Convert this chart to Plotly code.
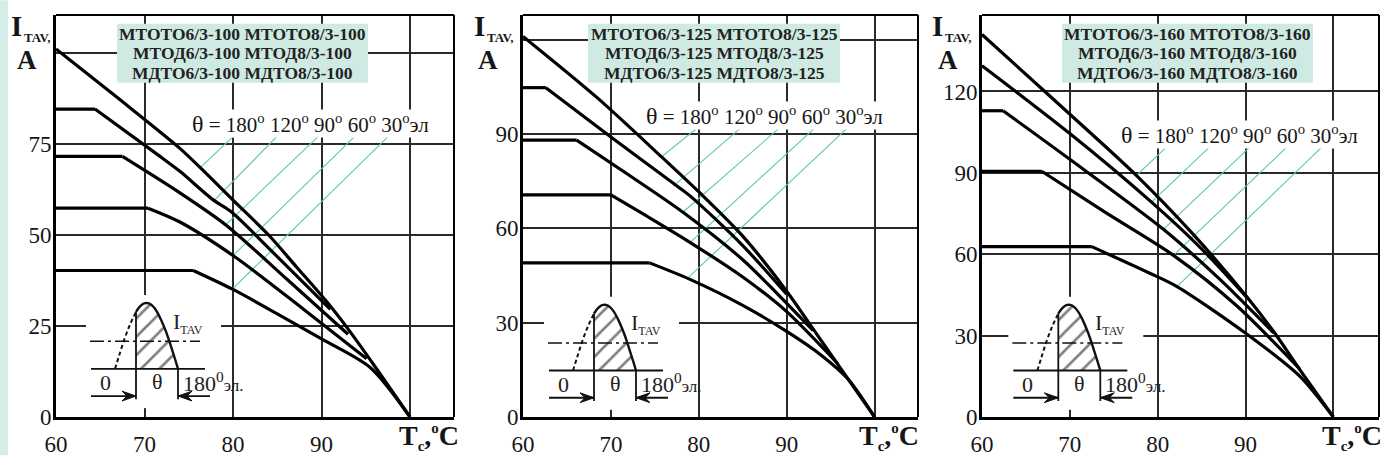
import plotly.graph_objects as go

# ---------------- figure geometry ----------------
W, H = 1385, 463
ML, MR, MT, MB = 56, 6, 15, 39
PW = W - ML - MR
PH = H - MT - MB


def px_x(px):
    return (px - ML) / PW


def px_y(py):
    return (H - MB - py) / PH


# ---------------- data ----------------
ANGLES = ["180", "120", "90", "60", "30"]

# Panel 1 (100 A devices)
P1_T180 = [60, 67, 74, 76.3, 80, 84, 87.2, 90.6, 93.2, 96, 100]
P1_I180 = [101, 87.5, 73.7, 68.4, 59.5, 50, 41.1, 31.6, 23.5, 14, 0]
P1_T120 = [60, 64.4, 71.75, 74, 77.8, 79.7, 85, 91]
P1_I120 = [84.5, 84.5, 71.5, 67.4, 59.5, 56.5, 44, 29.5]
P1_T90 = [60, 67.5, 74, 79.3, 86, 93]
P1_I90 = [71.5, 71.5, 61.5, 52.5, 38, 22.7]
P1_T60 = [60, 70.4, 74, 80, 88, 95.1]
P1_I60 = [57.3, 57.3, 53.5, 44.3, 29.5, 16]
P1_T30 = [60, 75.5, 80, 85, 89.8, 95.5, 100]
P1_I30 = [40.2, 40.2, 35, 28.3, 21.7, 13.6, 0]

# Panel 2 (125 A devices)
P2_T180 = [60, 68.4, 75.8, 80.1, 85, 90, 93, 96, 100]
P2_I180 = [121, 101.6, 82.6, 71.3, 57.5, 40, 28, 16, 0]
P2_T120 = [60, 62.6, 70, 77.1, 79, 85, 90]
P2_I120 = [104.7, 104.7, 89, 74.3, 70.3, 54.5, 39]
P2_T90 = [60, 66.1, 72, 78.2, 85, 89, 93]
P2_I90 = [88, 88, 77, 65.1, 50, 39, 27.5]
P2_T60 = [60, 70, 74, 78.9, 85, 90, 95.8]
P2_I60 = [70.6, 70.6, 64, 55.7, 44.5, 33.5, 17]
P2_T30 = [60, 74.4, 79, 85, 90, 94, 97, 100]
P2_I30 = [49, 49, 43.75, 35.5, 27.2, 19.5, 12, 0]

# Panel 3 (160 A devices)
P3_T180 = [60, 68, 77.6, 84, 90.1, 93.2, 96.2, 100]
P3_I180 = [141, 117.5, 89, 67.5, 44.5, 31.5, 17.4, 0]
P3_T120 = [60, 70, 79.3, 85, 90.1]
P3_I120 = [129.5, 104.5, 79.2, 62, 44.3]
P3_T90 = [60, 62.4, 70, 80.65, 87, 93.2]
P3_I90 = [112.9, 112.9, 95, 69.2, 51, 31]
P3_T60 = [60, 66.8, 74, 81.8, 89, 96.2]
P3_I60 = [90.6, 90.6, 75.5, 59.6, 41, 17.6]
P3_T30 = [60, 72.5, 79.1, 82.2, 90.1, 96.2, 100]
P3_I30 = [62.8, 62.8, 53, 48.1, 30.7, 15, 0]

# teal leader lines: label anchor (T0, I0) -> curve point (T1, I1)
P1_TEAL_T0 = [80.6, 85.5, 90.2, 94.3, 98.1]
P1_TEAL_I0 = [78.3, 78.3, 78.3, 78.3, 78.3]
P1_TEAL_T1 = [76.3, 77.8, 79.3, 80.0, 80.0]
P1_TEAL_I1 = [68.4, 59.2, 53.0, 44.3, 35.3]

P2_TEAL_T0 = [80.4, 85.3, 89.7, 93.7, 97.4]
P2_TEAL_I0 = [93.2, 93.2, 93.2, 93.2, 93.2]
P2_TEAL_T1 = [75.8, 77.1, 78.2, 78.9, 78.8]
P2_TEAL_I1 = [82.8, 73.4, 65.1, 55.2, 44.3]

P3_TEAL_T0 = [81.2, 86.1, 90.7, 94.9, 98.9]
P3_TEAL_I0 = [100.1, 100.1, 100.1, 100.1, 100.1]
P3_TEAL_T1 = [77.6, 79.3, 80.65, 81.8, 82.2]
P3_TEAL_I1 = [89.1, 79.2, 69.2, 59.6, 48.1]

# axes
X_TICKS = [60, 70, 80, 90, 100]
X_TICKTEXT = ["60", "70", "80", "90", ""]
P1_Y_TICKS = [0, 25, 50, 75, 100]
P1_Y_TICKTEXT = ["0", "25", "50", "75", ""]
P2_Y_TICKS = [0, 30, 60, 90, 120]
P2_Y_TICKTEXT = ["0", "30", "60", "90", ""]
P3_Y_TICKS = [0, 30, 60, 90, 120]
P3_Y_TICKTEXT = ["0", "30", "60", "90", "120"]

MODEL_TEXT = {
    1: ["МТОТО6/3-100 МТОТО8/3-100", "МТОД6/3-100 МТОД8/3-100", "МДТО6/3-100 МДТО8/3-100"],
    2: ["МТОТО6/3-125 МТОТО8/3-125", "МТОД6/3-125 МТОД8/3-125", "МДТО6/3-125 МДТО8/3-125"],
    3: ["МТОТО6/3-160 МТОТО8/3-160", "МТОД6/3-160 МТОД8/3-160", "МДТО6/3-160 МДТО8/3-160"],
}
THETA_TEXT = ('<span style="font-size:24px">θ</span> = 180<sup>o</sup> 120<sup>o</sup> '
              '90<sup>o</sup> 60<sup>o</sup> 30<sup>o</sup>эл')

# inset schematic (conduction-angle sketch), local pixel units
WAVE_DASH_X = [-21, -17, -12, -6, 0]
WAVE_DASH_Y = [0, 13, 29, 45, 58]
WAVE_SOLID_X = [0, 4, 8, 12, 16, 20, 25, 30, 35, 39, 42]
WAVE_SOLID_Y = [58, 63.5, 66.5, 66.8, 64.5, 59.6, 50, 37.9, 22.9, 10, 0]

# ---------------- layout per panel ----------------
PANELS = [
    dict(px0=56, px1=454, xr=[60, 104.97], yr=[0, 110.3],
         yt=P1_Y_TICKS, ytt=P1_Y_TICKTEXT,
         curves=[(P1_T180, P1_I180), (P1_T120, P1_I120), (P1_T90, P1_I90),
                 (P1_T60, P1_I60), (P1_T30, P1_I30)],
         teal=(P1_TEAL_T0, P1_TEAL_I0, P1_TEAL_T1, P1_TEAL_I1),
         box=(117, 368, 24, 84), theta=(310, 125),
         ititle=9, atitle=27, ttitle=461, inset=(136, 375)),
    dict(px0=523, px1=918, xr=[60, 104.94], yr=[0, 127.8],
         yt=P2_Y_TICKS, ytt=P2_Y_TICKTEXT,
         curves=[(P2_T180, P2_I180), (P2_T120, P2_I120), (P2_T90, P2_I90),
                 (P2_T60, P2_I60), (P2_T30, P2_I30)],
         teal=(P2_TEAL_T0, P2_TEAL_I0, P2_TEAL_T1, P2_TEAL_I1),
         box=(588, 840, 24, 84), theta=(764, 117),
         ititle=472, atitle=488, ttitle=921, inset=(594, 376.7)),
    dict(px0=982, px1=1379, xr=[60, 105.2], yr=[0, 148.2],
         yt=P3_Y_TICKS, ytt=P3_Y_TICKTEXT,
         curves=[(P3_T180, P3_I180), (P3_T120, P3_I120), (P3_T90, P3_I90),
                 (P3_T60, P3_I60), (P3_T30, P3_I30)],
         teal=(P3_TEAL_T0, P3_TEAL_I0, P3_TEAL_T1, P3_TEAL_I1),
         box=(1062, 1313, 24, 84), theta=(1239, 137),
         ititle=930, atitle=948, ttitle=1384, inset=(1058.3, 376.7)),
]

SERIF = "Liberation Serif"
TEAL = "#5cc6b2"
BOXFILL = "#cfeae2"
TXT = "#161616"

fig = go.Figure()
layout = dict(
    width=W, height=H,
    margin=dict(l=ML, r=MR, t=MT, b=MB, pad=0),
    paper_bgcolor="white", plot_bgcolor="white",
    showlegend=False,
    font=dict(family=SERIF, color=TXT),
)
shapes = []
annotations = []

# light strip at the left edge of the page
shapes.append(dict(type="rect", xref="paper", yref="paper",
                   x0=px_x(0), x1=px_x(8), y0=px_y(H), y1=px_y(0),
                   fillcolor="#d6eee8", line=dict(width=0), layer="below"))

for k, P in enumerate(PANELS):
    n = k + 1
    xa = "x" if n == 1 else f"x{n}"
    ya = "y" if n == 1 else f"y{n}"
    xkey = "xaxis" if n == 1 else f"xaxis{n}"
    ykey = "yaxis" if n == 1 else f"yaxis{n}"
    layout[xkey] = dict(
        domain=[px_x(P["px0"]), px_x(P["px1"])], range=P["xr"], anchor=ya,
        tickvals=X_TICKS, ticktext=X_TICKTEXT, showgrid=True, gridcolor="#2a2a2a",
        gridwidth=1.5, zeroline=False, showline=True, linecolor="black", linewidth=3,
        ticks="outside", ticklen=4, tickcolor="rgba(0,0,0,0)",
        tickfont=dict(family=SERIF, size=23, color=TXT), fixedrange=True)
    layout[ykey] = dict(
        domain=[0, 1], range=P["yr"], anchor=xa,
        tickvals=P["yt"], ticktext=P["ytt"], showgrid=True, gridcolor="#2a2a2a",
        gridwidth=1.5, zeroline=False, showline=True, linecolor="black", linewidth=3,
        ticks="", ticklabelstandoff=-3,
        tickfont=dict(family=SERIF, size=23, color=TXT), fixedrange=True)

    # top and right frame
    shapes.append(dict(type="line", xref=f"{xa} domain", yref=f"{ya} domain",
                       x0=0, x1=1, y0=1, y1=1, line=dict(color="black", width=2), layer="above"))
    shapes.append(dict(type="line", xref=f"{xa} domain", yref=f"{ya} domain",
                       x0=1, x1=1, y0=0, y1=1, line=dict(color="black", width=2), layer="above"))

    # teal leader lines
    t0, i0, t1, i1 = P["teal"]
    lx, ly = [], []
    for a, b, c, d in zip(t0, i0, t1, i1):
        lx += [a, c, None]
        ly += [b, d, None]
    fig.add_trace(go.Scatter(x=lx, y=ly, xaxis=xa, yaxis=ya, mode="lines",
                             line=dict(color=TEAL, width=1.1), hoverinfo="skip"))

    # curves: flat part straight, falling part smoothed
    for (tt, ii), ang in zip(P["curves"], ANGLES):
        kf = 0
        while kf + 1 < len(ii) and ii[kf + 1] == ii[0]:
            kf += 1
        if kf > 0:
            fig.add_trace(go.Scatter(x=tt[:kf + 1], y=ii[:kf + 1], xaxis=xa, yaxis=ya,
                                     mode="lines", line=dict(color="black", width=3.2),
                                     name=f"θ={ang}°"))
        fig.add_trace(go.Scatter(x=tt[kf:], y=ii[kf:], xaxis=xa, yaxis=ya, mode="lines",
                                 name=f"θ={ang}°",
                                 line=dict(color="black", width=3.2, shape="spline",
                                           smoothing=0.8)))

    # model box
    bx0, bx1, by0, by1 = P["box"]
    shapes.append(dict(type="rect", xref="paper", yref="paper",
                       x0=px_x(bx0), x1=px_x(bx1), y0=px_y(by1), y1=px_y(by0),
                       fillcolor=BOXFILL, line=dict(width=0), layer="above"))
    for j, line in enumerate(MODEL_TEXT[n]):
        annotations.append(dict(xref="paper", yref="paper",
                                x=px_x((bx0 + bx1) / 2), y=px_y(by0 + 10 + 20 * j),
                                text=f"<b>{line}</b>", showarrow=False,
                                font=dict(family=SERIF, size=17.5, color="#222"),
                                xanchor="center", yanchor="middle"))

    # theta label
    tx, ty = P["theta"]
    annotations.append(dict(xref="paper", yref="paper", x=px_x(tx), y=px_y(ty),
                            text=THETA_TEXT, showarrow=False, bgcolor="white",
                            font=dict(family=SERIF, size=21, color=TXT),
                            xanchor="center", yanchor="middle", borderpad=0))

    # axis titles
    annotations.append(dict(xref="paper", yref="paper", x=px_x(P["ititle"]), y=px_y(26),
                            text="<b>I</b>", showarrow=False, xanchor="left", yanchor="middle",
                            font=dict(family=SERIF, size=29, color=TXT)))
    annotations.append(dict(xref="paper", yref="paper", x=px_x(P["ititle"] + 13), y=px_y(38),
                            text="<b>TAV,</b>", showarrow=False, xanchor="left", yanchor="middle",
                            font=dict(family=SERIF, size=13, color=TXT)))
    annotations.append(dict(xref="paper", yref="paper", x=px_x(P["atitle"]), y=px_y(61),
                            text="<b>A</b>", showarrow=False, xanchor="center", yanchor="middle",
                            font=dict(family=SERIF, size=27, color=TXT)))
    annotations.append(dict(xref="paper", yref="paper", x=px_x(P["ttitle"]), y=px_y(444),
                            text='<b>T<sub><span style="font-size:15px">c</span></sub>'
                                 ',<sup><span style="font-size:15px">o</span></sup>C</b>',
                            showarrow=False, xanchor="right", yanchor="middle",
                            font=dict(family=SERIF, size=28, color=TXT)))

    # ---------------- inset schematic (own invisible axes, 1 unit = 1 px) ----------------
    ox, oy = P["inset"]
    m = n + 3
    ixa, iya = f"x{m}", f"y{m}"
    layout[f"xaxis{m}"] = dict(domain=[px_x(ox - 50), px_x(ox + 85)], range=[-50, 85],
                               anchor=iya, visible=False, fixedrange=True)
    layout[f"yaxis{m}"] = dict(domain=[px_y(oy + 40), px_y(oy - 75)], range=[-40, 75],
                               anchor=ixa, visible=False, fixedrange=True)
    # white patch
    fig.add_trace(go.Scatter(x=[-48, 79, 79, -48, -48], y=[-37, -37, 75, 75, -37],
                             xaxis=ixa, yaxis=iya, mode="lines", fill="toself",
                             fillcolor="white", line=dict(width=0), hoverinfo="skip"))
    # hatched area
    fig.add_trace(go.Scatter(x=WAVE_SOLID_X + [0], y=WAVE_SOLID_Y[:-1] + [0, 0],
                             xaxis=ixa, yaxis=iya, mode="lines", fill="toself",
                             fillcolor="white",
                             fillpattern=dict(shape="/", size=13, solidity=0.2,
                                              fgcolor="#000", bgcolor="white"),
                             line=dict(width=0), hoverinfo="skip"))
    # wave
    fig.add_trace(go.Scatter(x=WAVE_DASH_X, y=WAVE_DASH_Y, xaxis=ixa, yaxis=iya, mode="lines",
                             line=dict(color="#111", width=2, dash="4px,3px", shape="spline"),
                             hoverinfo="skip"))
    fig.add_trace(go.Scatter(x=WAVE_SOLID_X, y=WAVE_SOLID_Y, xaxis=ixa, yaxis=iya, mode="lines",
                             line=dict(color="#111", width=2.4, shape="spline"),
                             hoverinfo="skip"))
    # baseline, verticals, arrow shafts
    seg_x = [-45, 69, None, 0, 0, None, 42, 42, None, -45, 0, None, 74, 42]
    seg_y = [0, 0, None, -31, 58, None, -31, 0, None, -27.7, -27.7, None, -27.7, -27.7]
    fig.add_trace(go.Scatter(x=seg_x, y=seg_y, xaxis=ixa, yaxis=iya, mode="lines",
                             line=dict(color="#111", width=1.8), hoverinfo="skip"))
    # dash-dot level
    fig.add_trace(go.Scatter(x=[-46, 64], y=[28, 28], xaxis=ixa, yaxis=iya, mode="lines",
                             line=dict(color="#111", width=1.6, dash="14px,4px,3px,4px"),
                             hoverinfo="skip"))
    # arrow heads
    fig.add_trace(go.Scatter(x=[0, -14, -9, -14, 0], y=[-27.7, -22.7, -27.7, -32.7, -27.7],
                             xaxis=ixa, yaxis=iya, mode="lines", fill="toself",
                             fillcolor="#111", line=dict(color="#111", width=1), hoverinfo="skip"))
    fig.add_trace(go.Scatter(x=[42, 56, 51, 56, 42], y=[-27.7, -22.7, -27.7, -32.7, -27.7],
                             xaxis=ixa, yaxis=iya, mode="lines", fill="toself",
                             fillcolor="#111", line=dict(color="#111", width=1), hoverinfo="skip"))
    # inset texts
    for txt, x, y, anc, sz in [("0", -31, -14, "center", 22),
                               ("θ", 21, -13, "center", 22),
                               ('180<sup>0</sup><span style="font-size:17px">эл.</span>', 45, -13, "left", 22),
                               ('I<sub><span style="font-size:12px">TAV</span></sub>', 52, 47, "center", 22)]:
        annotations.append(dict(xref=ixa, yref=iya, x=x, y=y, text=txt, showarrow=False,
                                xanchor=anc, yanchor="middle",
                                font=dict(family=SERIF, size=sz, color="#222")))

layout["shapes"] = shapes
layout["annotations"] = annotations
fig.update_layout(**layout)
fig.write_html("out.html")
